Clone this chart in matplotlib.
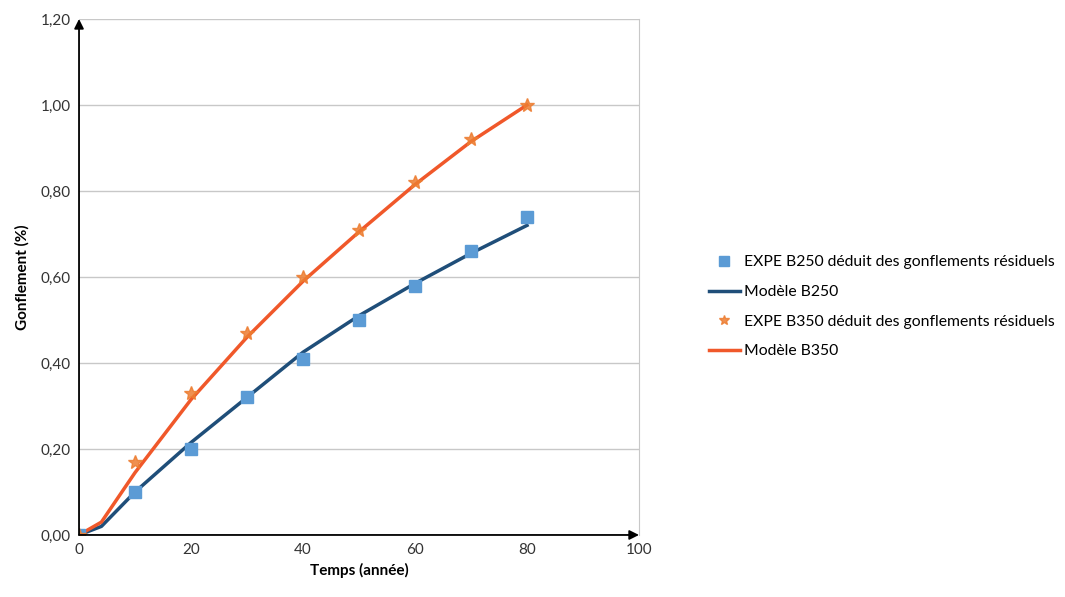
import matplotlib
matplotlib.use('Agg')
import matplotlib.pyplot as plt
import numpy as np

plt.rcParams['font.family'] = ['Lato', 'DejaVu Sans']

# experimental points
expe_t = [0, 10, 20, 30, 40, 50, 60, 70, 80]
expe_b250 = [0.00, 0.10, 0.20, 0.32, 0.41, 0.50, 0.58, 0.66, 0.74]
expe_b350 = [0.00, 0.17, 0.33, 0.47, 0.60, 0.71, 0.82, 0.92, 1.00]

# model curves
model_t = [0, 4, 10, 20, 30, 40, 50, 60, 70, 80]
model_b250 = [0.00, 0.02, 0.10, 0.215, 0.32, 0.425, 0.51, 0.585, 0.655, 0.72]
model_b350 = [0.00, 0.03, 0.145, 0.315, 0.46, 0.59, 0.705, 0.815, 0.915, 1.00]

x_ticks = [0, 20, 40, 60, 80, 100]
y_ticks = [0.0, 0.2, 0.4, 0.6, 0.8, 1.0, 1.2]

fig = plt.figure(figsize=(10.65, 5.97), dpi=100)
ax = fig.add_axes([0.0742, 0.1039, 0.5258, 0.8643])

ax.plot(expe_t, expe_b250, linestyle='none', marker='s', markersize=9,
        color='#5b9bd5', label='EXPE B250 déduit des gonflements résiduels', zorder=3)
ax.plot(model_t, model_b250, color='#1f4e79', linewidth=2.5, label='Modèle B250', zorder=2)
ax.plot(expe_t, expe_b350, linestyle='none', marker='*', markersize=10,
        color='#ed7d31', alpha=0.85, label='EXPE B350 déduit des gonflements résiduels', zorder=3)
ax.plot(model_t, model_b350, color='#f0582a', linewidth=2.5, label='Modèle B350', zorder=2)

ax.set_xlim(0, 100)
ax.set_ylim(0, 1.2)
ax.set_xticks(x_ticks)
ax.set_yticks(y_ticks)
ax.set_yticklabels(['{:.2f}'.format(v).replace('.', ',') for v in y_ticks])
ax.tick_params(length=0, labelsize=11, colors='#333333', pad=6)

ax.grid(axis='y', color='#c8c8c8', linewidth=1)
ax.set_axisbelow(True)

for s in ['left', 'bottom']:
    ax.spines[s].set_visible(False)
ax.spines['top'].set_visible(False)
ax.spines['right'].set_color('#c8c8c8')

# axes with arrow heads
ax.annotate('', xy=(0, 1.2), xytext=(0, 0), xycoords='data',
            arrowprops=dict(arrowstyle='-|>', color='black', lw=1.3, mutation_scale=14,
                            shrinkA=0, shrinkB=0), annotation_clip=False)
ax.annotate('', xy=(100, 0), xytext=(0, 0), xycoords='data',
            arrowprops=dict(arrowstyle='-|>', color='black', lw=1.3, mutation_scale=14,
                            shrinkA=0, shrinkB=0), annotation_clip=False)

ax.set_xlabel('Temps (année)', fontsize=11, fontweight='bold', labelpad=4)
ax.set_ylabel('Gonflement (%)', fontsize=11, fontweight='bold', labelpad=8)

fig.legend(loc='center left', bbox_to_anchor=(0.652, 0.486), frameon=False,
           fontsize=11.3, handlelength=2.0, handletextpad=0.25, labelspacing=1.0,
           markerscale=0.75)

fig.savefig('out.png', dpi=100)
